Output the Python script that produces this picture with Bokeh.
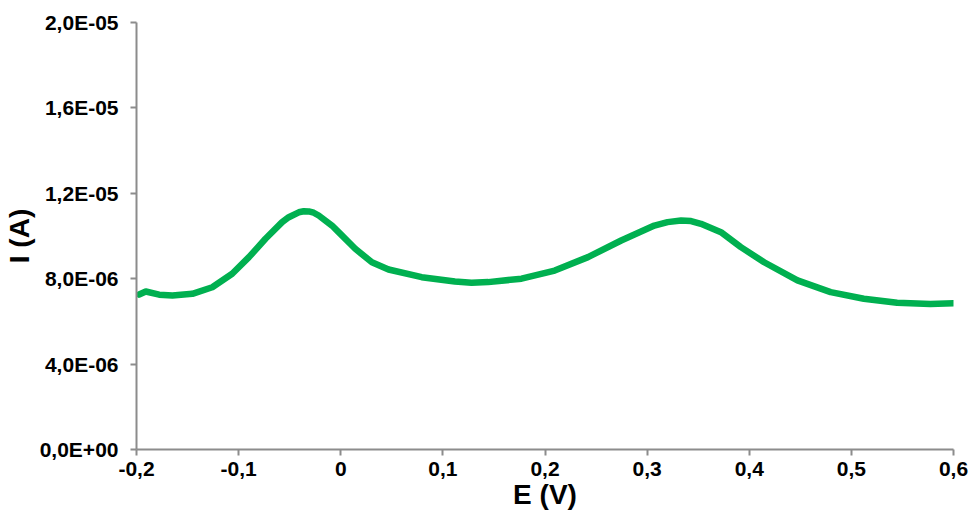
from bokeh.plotting import figure
from bokeh.models import Range1d, FixedTicker, CustomJSTickFormatter
from bokeh.embed import file_html
from bokeh.resources import INLINE

# Data (E in V, I in A)
E = [-0.1974, -0.1909, -0.1778, -0.1648, -0.1453, -0.1258, -0.1063, -0.0899,
     -0.0737, -0.0574, -0.0509, -0.0411, -0.0362, -0.0313, -0.0265, -0.0216,
     -0.0086, -0.0021, 0.0142, 0.0305, 0.0468, 0.0793, 0.1118, 0.1281, 0.1444,
     0.1770, 0.2095, 0.2421, 0.2746, 0.3071, 0.3200, 0.3332, 0.3430, 0.3527,
     0.3723, 0.3918, 0.4146, 0.4472, 0.4797, 0.5122, 0.5448, 0.5773, 0.6000]
I = [7.26e-6, 7.40e-6, 7.25e-6, 7.21e-6, 7.29e-6, 7.60e-6, 8.23e-6, 9.01e-6,
     9.87e-6, 10.65e-6, 10.88e-6, 11.11e-6, 11.16e-6, 11.15e-6, 11.09e-6, 10.96e-6,
     10.49e-6, 10.18e-6, 9.40e-6, 8.77e-6, 8.43e-6, 8.07e-6, 7.87e-6, 7.81e-6, 7.84e-6,
     8.00e-6, 8.38e-6, 9.01e-6, 9.79e-6, 10.49e-6, 10.65e-6, 10.73e-6, 10.70e-6, 10.57e-6,
     10.18e-6, 9.48e-6, 8.77e-6, 7.92e-6, 7.37e-6, 7.06e-6, 6.87e-6, 6.82e-6, 6.85e-6]

x_ticks = [-0.2, -0.1, 0.0, 0.1, 0.2, 0.3, 0.4, 0.5, 0.6]
y_ticks = [0.0, 4e-6, 8e-6, 1.2e-5, 1.6e-5, 2.0e-5]

x_title = "E (V)"
y_title = "I (A)"

p = figure(width=969, height=513, output_backend="svg", toolbar_location=None,
           x_range=Range1d(-0.2, 0.6), y_range=Range1d(0, 2.0e-5),
           min_border_left=134, min_border_right=16, min_border_top=22,
           min_border_bottom=64)

p.line(E, I, line_color="#00B050", line_width=6.5, line_cap="round", line_join="round")

p.outline_line_color = None
p.xgrid.visible = False
p.ygrid.visible = False

font = "Liberation Sans"
axis_color = "#8C8C8C"

p.xaxis.ticker = FixedTicker(ticks=x_ticks)
p.yaxis.ticker = FixedTicker(ticks=y_ticks)
p.xaxis.formatter = CustomJSTickFormatter(code="""
    if (Math.abs(tick) < 1e-9) return "0";
    return tick.toFixed(1).replace('.', ',');
""")
p.yaxis.formatter = CustomJSTickFormatter(code="""
    const s = tick.toExponential(1);
    const parts = s.split('e');
    let m = parts[0].replace('.', ',');
    let ex = parseInt(parts[1]);
    const sign = ex < 0 ? '-' : '+';
    ex = Math.abs(ex);
    const es = ex < 10 ? '0' + ex : '' + ex;
    return m + 'E' + sign + es;
""")

for ax in (p.xaxis[0], p.yaxis[0]):
    ax.axis_line_color = axis_color
    ax.axis_line_width = 2
    ax.major_tick_line_color = axis_color
    ax.major_tick_line_width = 2
    ax.major_tick_out = 6
    ax.major_tick_in = 0
    ax.minor_tick_line_color = None
    ax.major_label_text_font = font
    ax.major_label_text_font_style = "bold"
    ax.major_label_text_font_size = "21px"
    ax.major_label_text_color = "black"
    ax.axis_label_text_font = font
    ax.axis_label_text_font_style = "bold"
    ax.axis_label_text_font_size = "28px"
    ax.axis_label_text_color = "black"

p.xaxis.axis_label = x_title
p.yaxis.axis_label = y_title
p.xaxis.major_label_standoff = 6
p.yaxis.major_label_standoff = 12
p.xaxis.axis_label_standoff = 0
p.yaxis.axis_label_standoff = 2

open("out.html", "w").write(file_html(p, INLINE))
